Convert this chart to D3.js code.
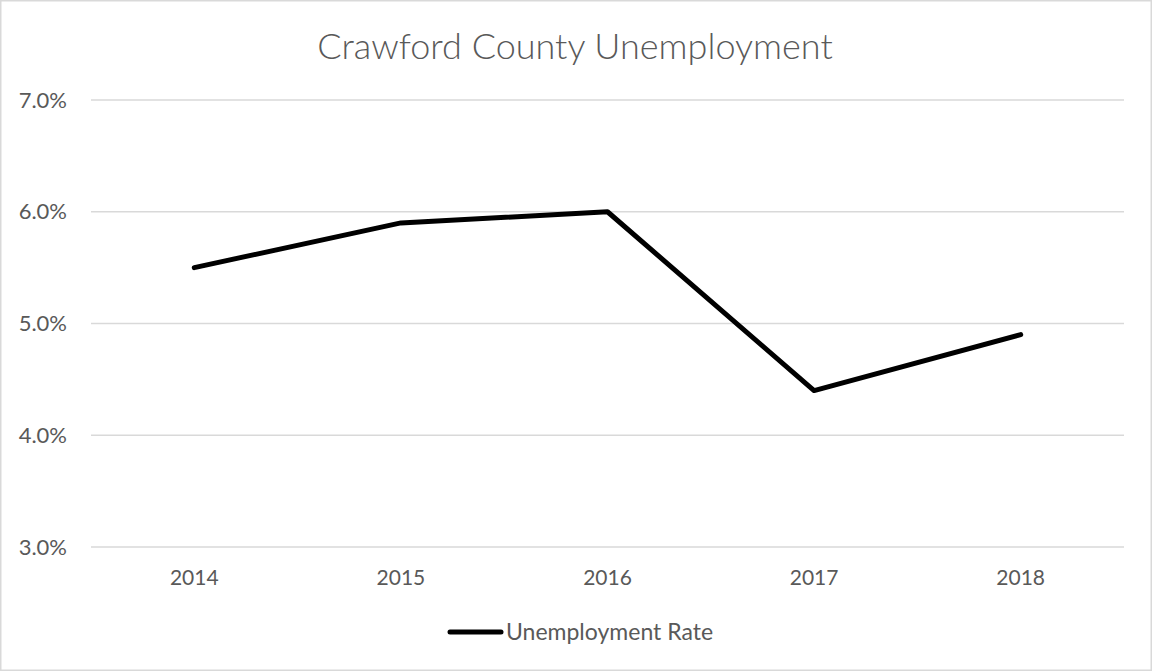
<!DOCTYPE html>
<html>
<head>
<meta charset="utf-8">
<script src="https://cdn.jsdelivr.net/npm/d3@7"></script>
<style>
  body { margin: 0; background: #fff; }
  text { font-family: "Source Sans Pro", "Lato", "Noto Sans", sans-serif; fill: #595959; }
</style>
</head>
<body>
<div id="chart"></div>
<script>
const years = ['2014', '2015', '2016', '2017', '2018']
const unemploymentRate = [5.5, 5.9, 6.0, 4.4, 4.9]
const yTicks = [3, 4, 5, 6, 7]
const seriesName = 'Unemployment Rate'
const chartTitle = 'Crawford County Unemployment'

const width = 1152
const height = 671
const margin = { top: 100, right: 28, bottom: 124, left: 91 }

const svg = d3.select('#chart')
    .append('svg')
    .attr('width', width)
    .attr('height', height)
    .attr('viewBox', `0 0 ${width} ${height}`)

// outer frame
svg.append('rect')
    .attr('x', 0.75).attr('y', 0.75)
    .attr('width', width - 1.5).attr('height', height - 1.5)
    .attr('fill', '#fff')
    .attr('stroke', '#d9d9d9')
    .attr('stroke-width', 1.5)

const x = d3.scaleBand()
    .domain(years)
    .range([margin.left, width - margin.right])

const y = d3.scaleLinear()
    .domain([3, 7])
    .range([height - margin.bottom, margin.top])

// gridlines
svg.append('g')
    .selectAll('line')
    .data(yTicks)
    .join('line')
    .attr('x1', margin.left)
    .attr('x2', width - margin.right)
    .attr('y1', d => y(d))
    .attr('y2', d => y(d))
    .attr('stroke', '#d9d9d9')
    .attr('stroke-width', 1.5)

// y labels
svg.append('g')
    .selectAll('text')
    .data(yTicks)
    .join('text')
    .attr('x', 67)
    .attr('y', d => y(d))
    .attr('dy', '0.35em')
    .attr('text-anchor', 'end')
    .style('font-size', '22px')
    .text(d => d3.format('.1f')(d) + '%')

// x labels
svg.append('g')
    .selectAll('text')
    .data(years)
    .join('text')
    .attr('x', d => x(d) + x.bandwidth() / 2)
    .attr('y', height - margin.bottom + 31)
    .attr('dy', '0.35em')
    .attr('text-anchor', 'middle')
    .style('font-size', '21px')
    .text(d => d)

// series line
const line = d3.line()
    .x((d, i) => x(years[i]) + x.bandwidth() / 2)
    .y(d => y(d))

svg.append('path')
    .datum(unemploymentRate)
    .attr('d', line)
    .attr('fill', 'none')
    .attr('stroke', '#000')
    .attr('stroke-width', 5)
    .attr('stroke-linejoin', 'round')
    .attr('stroke-linecap', 'round')

// title
svg.append('text')
    .attr('x', width / 2 - 1)
    .attr('y', 46)
    .attr('dy', '0.35em')
    .attr('text-anchor', 'middle')
    .style('font-size', '36px')
    .style('font-weight', 300)
    .text(chartTitle)

// legend
const legend = svg.append('g')
const legendY = 632
legend.append('line')
    .attr('x1', 450).attr('x2', 501)
    .attr('y1', legendY).attr('y2', legendY)
    .attr('stroke', '#000')
    .attr('stroke-width', 5)
    .attr('stroke-linecap', 'round')
legend.append('text')
    .attr('x', 506)
    .attr('y', legendY)
    .attr('dy', '0.35em')
    .style('font-size', '23px')
    .text(seriesName)
</script>
</body>
</html>
